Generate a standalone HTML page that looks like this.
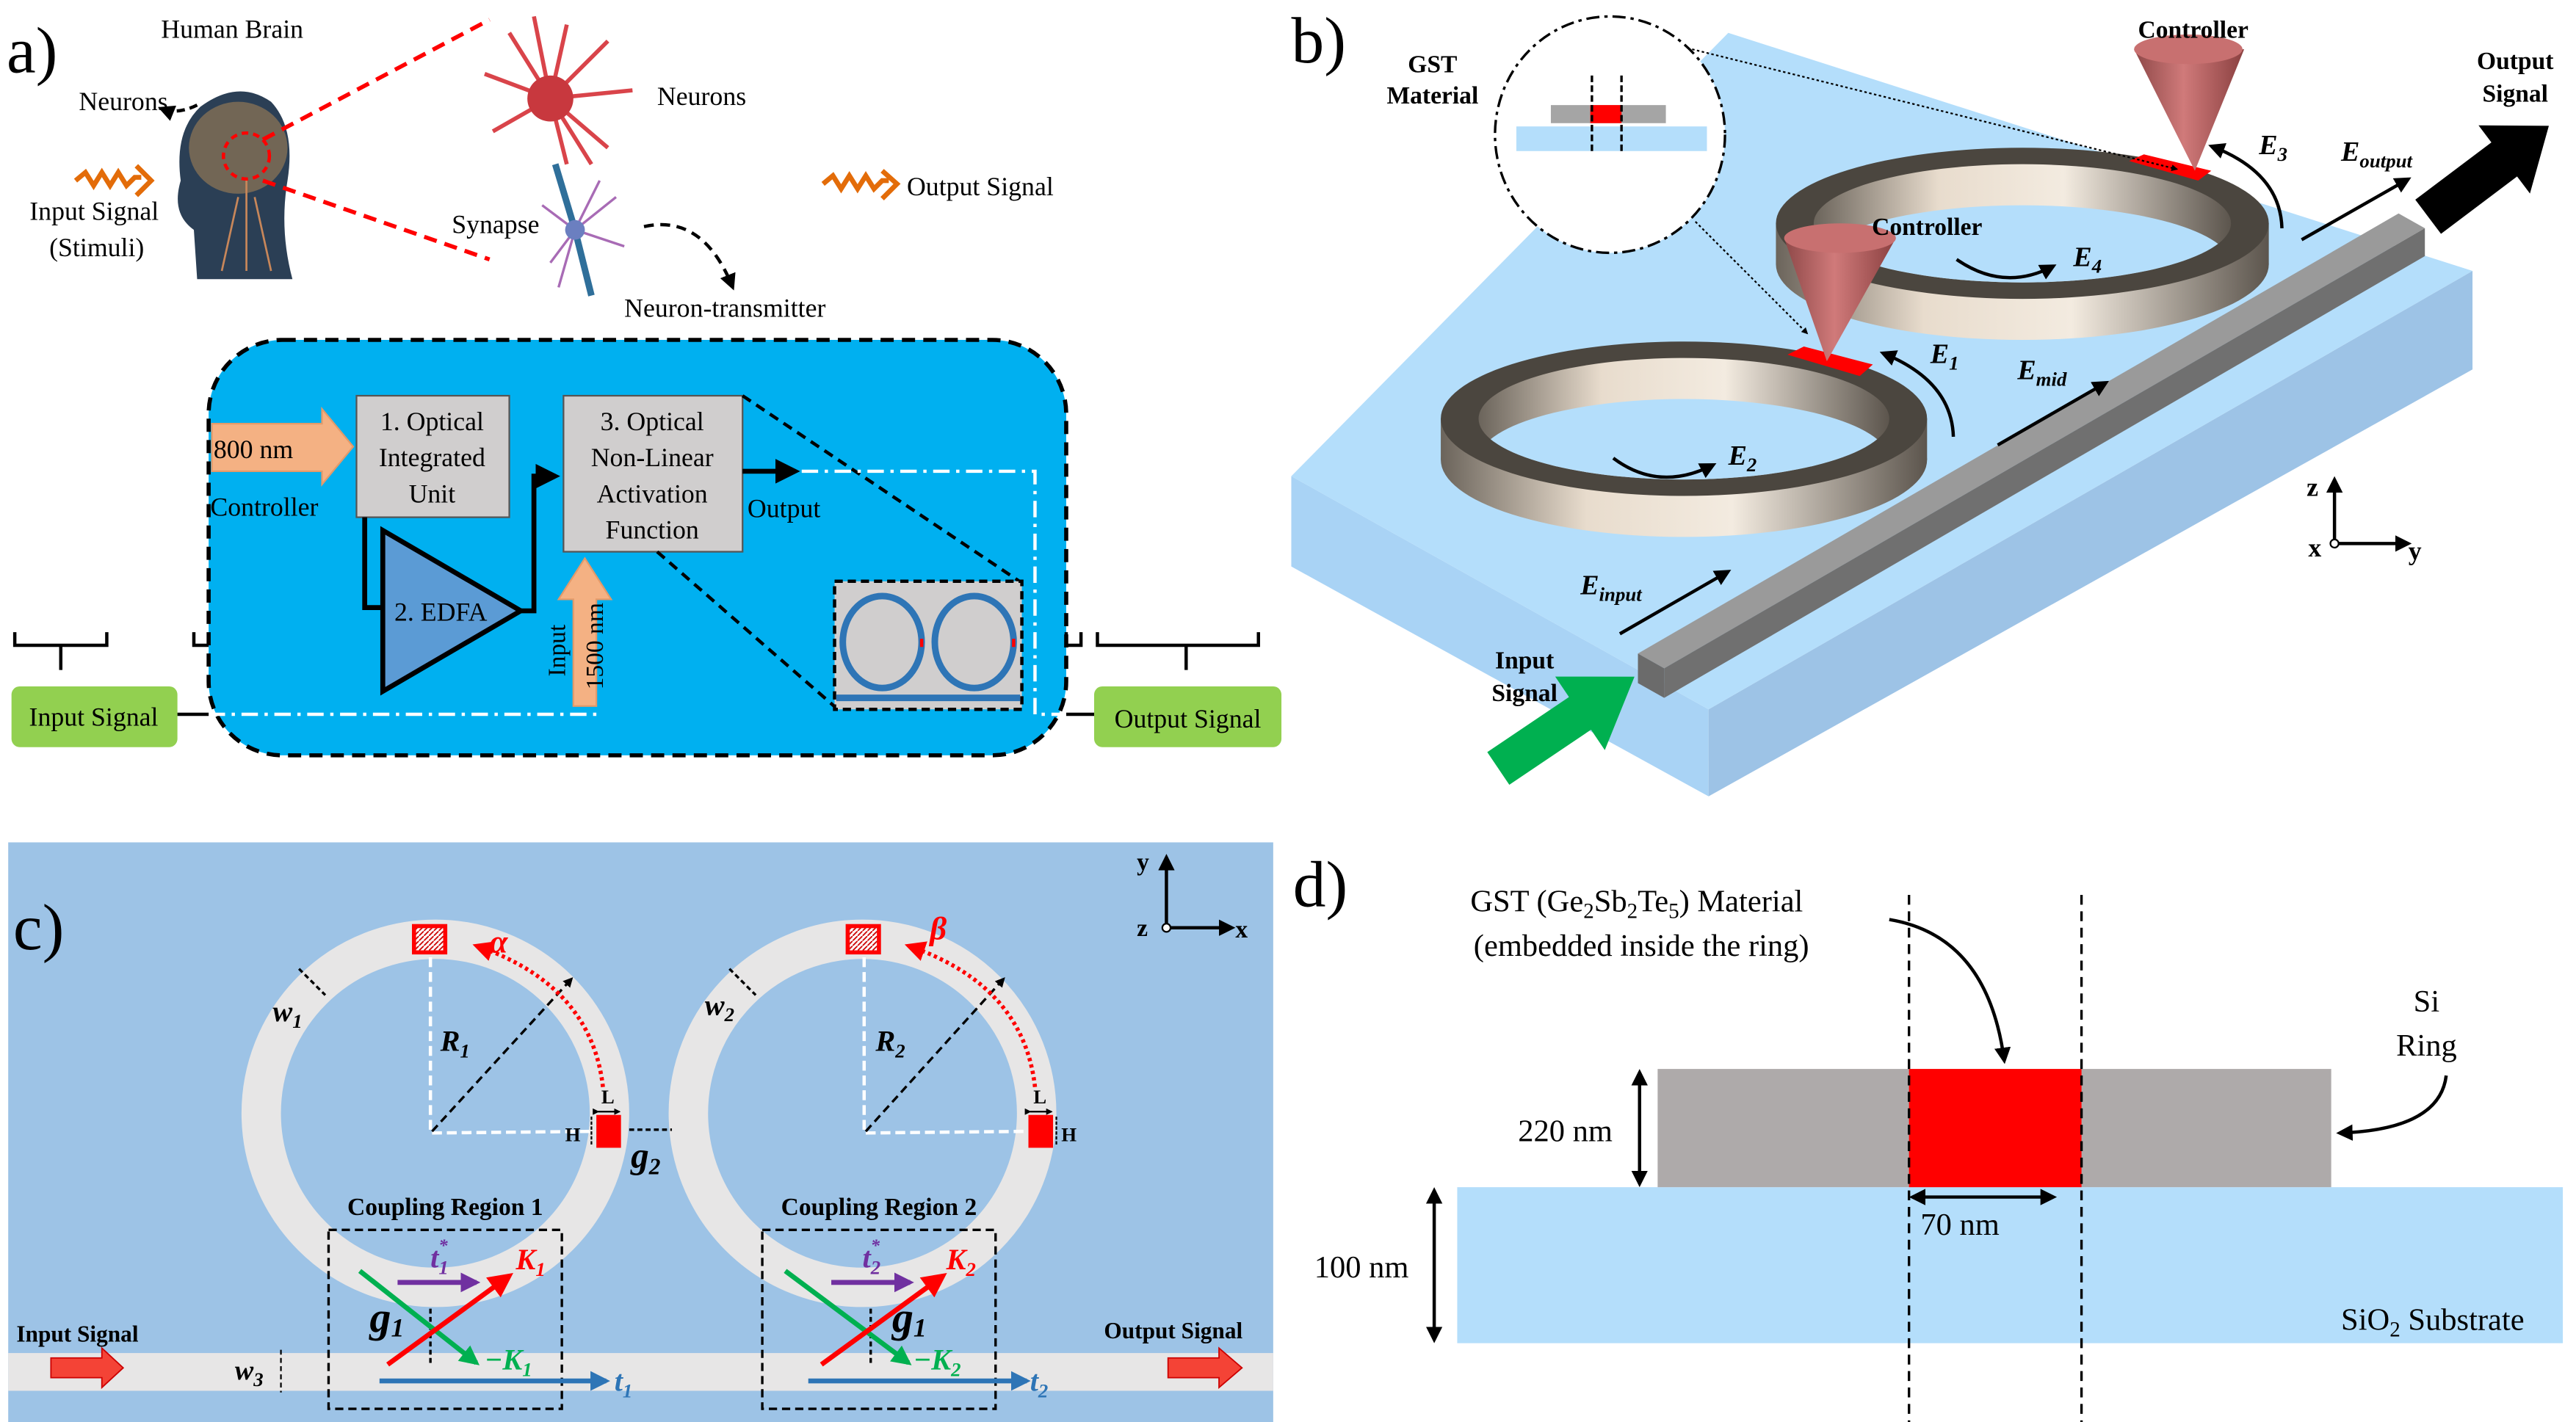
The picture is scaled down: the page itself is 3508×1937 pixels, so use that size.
<!DOCTYPE html>
<html><head><meta charset="utf-8"><style>
html,body{margin:0;padding:0;background:#fff;}
svg{display:block;font-family:"Liberation Serif","Times New Roman",serif;}
svg text{font-family:"Liberation Serif","Times New Roman",serif;}
.b{font-weight:bold;}
.i{font-style:italic;font-weight:bold;}
</style></head><body>
<svg width="3508" height="1937" viewBox="0 0 1568 866" preserveAspectRatio="none" xmlns="http://www.w3.org/2000/svg" font-family="Liberation Serif, serif">
<defs>
<marker id="ah" viewBox="0 0 10 10" refX="8" refY="5" markerWidth="5" markerHeight="5" orient="auto-start-reverse"><path d="M0,0L10,5L0,10z" fill="#000"/></marker>
<marker id="ahr" viewBox="0 0 10 10" refX="8" refY="5" markerWidth="5" markerHeight="5" orient="auto"><path d="M0,0L10,5L0,10z" fill="#f00"/></marker>
<marker id="ahp" viewBox="0 0 10 10" refX="8" refY="5" markerWidth="4" markerHeight="4" orient="auto"><path d="M0,0L10,5L0,10z" fill="#7030a0"/></marker>
<marker id="ahg" viewBox="0 0 10 10" refX="8" refY="5" markerWidth="4" markerHeight="4" orient="auto"><path d="M0,0L10,5L0,10z" fill="#00b050"/></marker>
<marker id="ahb" viewBox="0 0 10 10" refX="8" refY="5" markerWidth="4" markerHeight="4" orient="auto"><path d="M0,0L10,5L0,10z" fill="#2e75b6"/></marker>
<marker id="ahk" viewBox="0 0 10 10" refX="8" refY="5" markerWidth="4" markerHeight="4" orient="auto"><path d="M0,0L10,5L0,10z" fill="#000"/></marker>
<linearGradient id="wall" x1="0" x2="1"><stop offset="0" stop-color="#6b645b"/><stop offset="0.3" stop-color="#e8dccd"/><stop offset="0.6" stop-color="#f3ebe0"/><stop offset="1" stop-color="#5c554d"/></linearGradient>
<linearGradient id="cone" x1="0" x2="1"><stop offset="0" stop-color="#8e4848"/><stop offset="0.45" stop-color="#d07a7a"/><stop offset="1" stop-color="#8a4040"/></linearGradient>
<pattern id="hatch" width="3" height="3" patternUnits="userSpaceOnUse"><rect width="3" height="3" fill="#fff"/><path d="M0,3L3,0" stroke="#c00" stroke-width="0.8"/></pattern>
<clipPath id="h1"><ellipse cx="1025" cy="255" rx="125" ry="37"/></clipPath>
<clipPath id="h2"><ellipse cx="1231" cy="136" rx="127" ry="36"/></clipPath>
</defs>

<!-- ============ PANEL A ============ -->
<text x="4" y="44" font-size="40">a)</text>
<text x="98" y="23" font-size="16">Human Brain</text>
<text x="48" y="67" font-size="16">Neurons</text>
<path d="M98,70 Q110,64 120,68" stroke="#000" stroke-width="2" fill="none" stroke-dasharray="5,3" marker-end="url(#ah)" transform="rotate(180 109 67)"/>
<text x="18" y="134" font-size="16">Input Signal</text>
<text x="30" y="156" font-size="16">(Stimuli)</text>
<path d="M46,110 l6,-5 l5,8 l5,-8 l5,8 l5,-8 l5,8 l5,-5 l4,0" stroke="#e36c09" stroke-width="3" fill="none"/>
<path d="M83,101 l9,9 l-9,9" stroke="#e36c09" stroke-width="3" fill="none"/>
<path d="M120,170 L118,140 Q104,130 110,110 Q106,80 122,65 Q145,48 165,62 Q180,78 175,110 Q170,140 178,170 Z" fill="#2b3f55"/>
<ellipse cx="145" cy="90" rx="30" ry="28" fill="#7a6a55" opacity="0.9"/>
<ellipse cx="150" cy="95" rx="14" ry="14" fill="none" stroke="#f00" stroke-width="2" stroke-dasharray="4,3"/>
<path d="M150,110 L150,165 M145,120 L135,165 M155,120 L165,165" stroke="#c8875a" stroke-width="1.2"/>
<line x1="160" y1="85" x2="298" y2="12" stroke="#f00" stroke-width="2.5" stroke-dasharray="8,5"/>
<line x1="160" y1="110" x2="298" y2="158" stroke="#f00" stroke-width="2.5" stroke-dasharray="8,5"/>
<g stroke="#d9444a" stroke-width="2.5" fill="none">
<path d="M335,60 L310,20 M335,60 L345,15 M335,60 L370,25 M335,60 L385,55 M335,60 L370,90 M335,60 L345,100 M335,60 L300,80 M335,60 L295,45 M335,60 L325,10 M335,60 L360,100"/>
</g>
<circle cx="335" cy="60" r="14" fill="#c8383e"/>
<path d="M338,100 L350,140 L360,180" stroke="#2f6f9a" stroke-width="4" fill="none"/>
<g stroke="#a86bb5" stroke-width="1.5" fill="none"><path d="M350,140 L330,125 M350,140 L335,160 M350,140 L375,120 M350,140 L380,150 M350,140 L340,175 M350,140 L365,110"/></g>
<circle cx="350" cy="140" r="6" fill="#6b7fc0"/>
<text x="400" y="64" font-size="16">Neurons</text>
<text x="275" y="142" font-size="16">Synapse</text>
<text x="380" y="193" font-size="16">Neuron-transmitter</text>
<path d="M392,138 Q428,130 446,175" stroke="#000" stroke-width="2" fill="none" stroke-dasharray="6,4" marker-end="url(#ah)"/>
<path d="M501,112 l6,-5 l5,8 l5,-8 l5,8 l5,-8 l5,8 l5,-5 l4,0" stroke="#e36c09" stroke-width="3" fill="none"/>
<path d="M537,104 l9,8 l-9,9" stroke="#e36c09" stroke-width="3" fill="none"/>
<text x="552" y="119" font-size="16">Output Signal</text>

<rect x="127" y="207" width="522" height="253" rx="45" fill="#00b0f0" stroke="#000" stroke-width="2.5" stroke-dasharray="8,5"/>
<rect x="217" y="241" width="93" height="74" fill="#d0cece" stroke="#555" stroke-width="1"/>
<text font-size="16" text-anchor="middle"><tspan x="263" y="262">1. Optical</tspan><tspan x="263" y="284">Integrated</tspan><tspan x="263" y="306">Unit</tspan></text>
<path d="M129,258 L196,258 L196,249 L215,272 L196,295 L196,287 L129,287 Z" fill="#f4b183" stroke="#e39a6a"/>
<text x="130" y="279" font-size="16">800 nm</text>
<text x="128" y="314" font-size="16">Controller</text>
<polyline points="222,315 222,370 232,370" fill="none" stroke="#000" stroke-width="3"/>
<polygon points="233,323 233,421 317,372" fill="#5b9bd5" stroke="#000" stroke-width="3"/>
<text x="240" y="378" font-size="16">2. EDFA</text>
<polyline points="317,372 325,372 325,290 338,290" fill="none" stroke="#000" stroke-width="3" marker-end="url(#ah)"/>
<rect x="343" y="241" width="109" height="95" fill="#d0cece" stroke="#555" stroke-width="1"/>
<text font-size="16" text-anchor="middle"><tspan x="397" y="262">3. Optical</tspan><tspan x="397" y="284">Non-Linear</tspan><tspan x="397" y="306">Activation</tspan><tspan x="397" y="328">Function</tspan></text>
<line x1="452" y1="287" x2="484" y2="287" stroke="#000" stroke-width="3" marker-end="url(#ah)"/>
<text x="455" y="315" font-size="16">Output</text>
<path d="M349,430 L349,365 L340,365 L356,340 L372,365 L363,365 L363,430 Z" fill="#f4b183" stroke="#e39a6a"/>
<text font-size="15" transform="translate(367,420) rotate(-90)">1500 nm</text>
<text font-size="15" transform="translate(344,412) rotate(-90)">Input</text>
<line x1="452" y1="241" x2="622" y2="355" stroke="#000" stroke-width="2" stroke-dasharray="6,4"/>
<line x1="400" y1="336" x2="510" y2="432" stroke="#000" stroke-width="2" stroke-dasharray="6,4"/>
<polyline points="127,435 362,435 362,430" fill="none" stroke="#fff" stroke-width="2" stroke-dasharray="10,4,2,4"/>
<polyline points="488,287 630,287 630,435 649,435" fill="none" stroke="#fff" stroke-width="2" stroke-dasharray="10,4,2,4"/>
<rect x="508" y="354" width="114" height="78" fill="#d0cece" stroke="#000" stroke-width="2" stroke-dasharray="5,3"/>
<ellipse cx="537" cy="391" rx="24" ry="28" fill="none" stroke="#2e75b6" stroke-width="4"/>
<ellipse cx="593" cy="391" rx="24" ry="28" fill="none" stroke="#2e75b6" stroke-width="4"/>
<rect x="560" y="389" width="2" height="5" fill="#f00"/><rect x="616" y="389" width="2" height="5" fill="#f00"/>
<rect x="509" y="423" width="112" height="4" fill="#2e75b6"/>
<path d="M9,385 L9,393 L37,393 L37,408 M37,393 L65,393 L65,385" fill="none" stroke="#000" stroke-width="2"/>
<path d="M118,385 L118,393 L127,393" fill="none" stroke="#000" stroke-width="2"/>
<path d="M649,385 L649,393 L658,393 L658,385" fill="none" stroke="#000" stroke-width="2"/>
<path d="M668,385 L668,393 L722,393 L722,408 M722,393 L766,393 L766,385" fill="none" stroke="#000" stroke-width="2"/>
<rect x="7" y="418" width="101" height="37" rx="5" fill="#92d050"/>
<text x="57" y="442" font-size="16" text-anchor="middle">Input Signal</text>
<line x1="108" y1="435" x2="127" y2="435" stroke="#000" stroke-width="2"/>
<rect x="666" y="418" width="114" height="37" rx="5" fill="#92d050"/>
<text x="723" y="443" font-size="16" text-anchor="middle">Output Signal</text>
<line x1="649" y1="435" x2="666" y2="435" stroke="#000" stroke-width="2"/>

<!-- ============ PANEL B ============ -->
<text x="786" y="38" font-size="40">b)</text>
<polygon points="786,290 1040,432 1040,485 786,345" fill="#a9d3f5"/>
<polygon points="1040,432 1505,165 1505,225 1040,485" fill="#9dc3e6"/>
<polygon points="786,290 1052,20 1505,165 1040,432" fill="#b4defb"/>
<g>
<ellipse cx="1025" cy="280" rx="148" ry="47" fill="url(#wall)"/>
<rect x="877" y="255" width="296" height="25" fill="url(#wall)"/>
<ellipse cx="1025" cy="255" rx="148" ry="47" fill="#4b463f"/>
<ellipse cx="1025" cy="255" rx="125" ry="37" fill="url(#wall)"/>
<ellipse cx="1025" cy="280" rx="125" ry="37" fill="#b4defb" clip-path="url(#h1)"/>
</g>
<g>
<ellipse cx="1231" cy="161" rx="150" ry="46" fill="url(#wall)"/>
<rect x="1081" y="136" width="300" height="25" fill="url(#wall)"/>
<ellipse cx="1231" cy="136" rx="150" ry="46" fill="#4b463f"/>
<ellipse cx="1231" cy="136" rx="127" ry="36" fill="url(#wall)"/>
<ellipse cx="1231" cy="161" rx="127" ry="36" fill="#b4defb" clip-path="url(#h2)"/>
</g>
<polygon points="1088,216 1098,211 1140,222 1132,229" fill="#f00"/>
<polygon points="1296,98 1305,94 1346,104 1338,110" fill="#f00"/>
<polygon points="997,398 1460,130 1476,139 1013,407" fill="#9a9a9a"/>
<polygon points="997,398 1013,407 1013,425 997,416" fill="#6b6b6b"/>
<polygon points="1013,407 1476,139 1476,156 1013,425" fill="#707070"/>
<path d="M1086,145 L1112,220 L1154,145 Z" fill="url(#cone)"/>
<ellipse cx="1120" cy="145" rx="34" ry="9" fill="#c87070"/>
<path d="M1299,30 L1336,104 L1366,30 Z" fill="url(#cone)"/>
<ellipse cx="1332" cy="30" rx="33" ry="9" fill="#c87070"/>
<ellipse cx="980" cy="82" rx="70" ry="72" fill="#fff" stroke="#000" stroke-width="1.5" stroke-dasharray="8,3,2,3"/>
<rect x="944" y="64" width="70" height="11" fill="#a5a5a5"/>
<rect x="968" y="64" width="19" height="11" fill="#f00"/>
<rect x="923" y="77" width="116" height="15" fill="#b4defb"/>
<line x1="969" y1="46" x2="969" y2="93" stroke="#000" stroke-width="1.5" stroke-dasharray="4,2"/>
<line x1="987" y1="46" x2="987" y2="93" stroke="#000" stroke-width="1.5" stroke-dasharray="4,2"/>
<line x1="1030" y1="30" x2="1325" y2="103" stroke="#000" stroke-width="1" stroke-dasharray="1.5,1.5" marker-end="url(#ahk)"/>
<line x1="1032" y1="135" x2="1100" y2="203" stroke="#000" stroke-width="1" stroke-dasharray="1.5,1.5" marker-end="url(#ahk)"/>
<text class="b" font-size="15" text-anchor="middle"><tspan x="872" y="44">GST</tspan><tspan x="872" y="63">Material</tspan></text>
<text class="b" x="1335" y="23" font-size="15" text-anchor="middle">Controller</text>
<text class="b" x="1173" y="143" font-size="15" text-anchor="middle">Controller</text>
<text class="b" font-size="15" text-anchor="middle"><tspan x="1531" y="42">Output</tspan><tspan x="1531" y="62">Signal</tspan></text>
<text class="b" font-size="15" text-anchor="middle"><tspan x="928" y="407">Input</tspan><tspan x="928" y="427">Signal</tspan></text>
<g transform="translate(1478,132) rotate(-37)"><polygon points="0,-13 58,-13 58,-26 92,0 58,26 58,13 0,13" fill="#000"/></g>
<g transform="translate(912,468) rotate(-34)"><polygon points="0,-12 60,-12 60,-27 100,0 60,27 60,12 0,12" fill="#00b050"/></g>
<line x1="986" y1="386" x2="1052" y2="348" stroke="#000" stroke-width="2" marker-end="url(#ah)"/>
<line x1="1216" y1="271" x2="1282" y2="233" stroke="#000" stroke-width="2" marker-end="url(#ah)"/>
<line x1="1401" y1="146" x2="1466" y2="109" stroke="#000" stroke-width="2" marker-end="url(#ah)"/>
<path d="M1189,266 Q1188,232 1146,215" stroke="#000" stroke-width="2" fill="none" marker-end="url(#ah)"/>
<path d="M1389,139 Q1388,105 1346,89" stroke="#000" stroke-width="2" fill="none" marker-end="url(#ah)"/>
<path d="M982,279 Q1010,300 1043,283" stroke="#000" stroke-width="2" fill="none" marker-end="url(#ah)"/>
<path d="M1191,158 Q1220,178 1250,162" stroke="#000" stroke-width="2" fill="none" marker-end="url(#ah)"/>
<text class="i" font-size="17" x="962" y="362">E<tspan font-size="12" dy="4">input</tspan></text>
<text class="i" font-size="17" x="1228" y="231">E<tspan font-size="12" dy="4">mid</tspan></text>
<text class="i" font-size="17" x="1425" y="98">E<tspan font-size="12" dy="4">output</tspan></text>
<text class="i" font-size="17" x="1175" y="221">E<tspan font-size="12" dy="4">1</tspan></text>
<text class="i" font-size="17" x="1052" y="283">E<tspan font-size="12" dy="4">2</tspan></text>
<text class="i" font-size="17" x="1375" y="94">E<tspan font-size="12" dy="4">3</tspan></text>
<text class="i" font-size="17" x="1262" y="162">E<tspan font-size="12" dy="4">4</tspan></text>
<line x1="1421" y1="331" x2="1421" y2="292" stroke="#000" stroke-width="2" marker-end="url(#ah)"/>
<line x1="1421" y1="331" x2="1466" y2="331" stroke="#000" stroke-width="2" marker-end="url(#ah)"/>
<circle cx="1421" cy="331" r="2.5" fill="#fff" stroke="#000"/>
<text class="b" x="1404" y="302" font-size="16">z</text>
<text class="b" x="1405" y="339" font-size="16">x</text>
<text class="b" x="1466" y="341" font-size="16">y</text>

<!-- ============ PANEL C ============ -->
<rect x="5" y="513" width="770" height="353" fill="#9dc3e6"/>
<text x="8" y="578" font-size="40">c)</text>
<rect x="5" y="824" width="770" height="23" fill="#e7e6e6"/>
<circle cx="265" cy="678" r="106" fill="none" stroke="#e7e6e6" stroke-width="24"/>
<circle cx="525" cy="678" r="106" fill="none" stroke="#e7e6e6" stroke-width="24"/>
<rect x="252" y="564" width="19" height="16" fill="url(#hatch)" stroke="#f00" stroke-width="2.5"/>
<rect x="516" y="564" width="19" height="16" fill="url(#hatch)" stroke="#f00" stroke-width="2.5"/>
<rect x="363" y="679" width="15" height="20" fill="#f00"/>
<rect x="626" y="679" width="15" height="20" fill="#f00"/>
<polyline points="262,583 262,690 362,689" fill="none" stroke="#fff" stroke-width="2" stroke-dasharray="6,3"/>
<polyline points="526,583 526,690 624,689" fill="none" stroke="#fff" stroke-width="2" stroke-dasharray="6,3"/>
<line x1="263" y1="689" x2="348" y2="596" stroke="#000" stroke-width="1.5" stroke-dasharray="5,3" marker-end="url(#ahk)"/>
<line x1="527" y1="689" x2="611" y2="596" stroke="#000" stroke-width="1.5" stroke-dasharray="5,3" marker-end="url(#ahk)"/>
<path d="M367,662 Q360,600 290,576" fill="none" stroke="#f00" stroke-width="2.5" stroke-dasharray="2,2" marker-end="url(#ahr)"/>
<path d="M630,662 Q623,600 553,576" fill="none" stroke="#f00" stroke-width="2.5" stroke-dasharray="2,2" marker-end="url(#ahr)"/>
<text class="i" x="298" y="580" font-size="20" fill="#f00">α</text>
<text class="i" x="566" y="572" font-size="20" fill="#f00">β</text>
<line x1="182" y1="590" x2="198" y2="606" stroke="#000" stroke-width="1.5" stroke-dasharray="3,2"/>
<line x1="444" y1="590" x2="460" y2="606" stroke="#000" stroke-width="1.5" stroke-dasharray="3,2"/>
<text class="i" x="166" y="622" font-size="18">w<tspan font-size="12" dy="4">1</tspan></text>
<text class="i" x="429" y="618" font-size="18">w<tspan font-size="12" dy="4">2</tspan></text>
<text class="i" x="268" y="640" font-size="18">R<tspan font-size="12" dy="4">1</tspan></text>
<text class="i" x="533" y="640" font-size="18">R<tspan font-size="12" dy="4">2</tspan></text>
<text class="b" x="366" y="672" font-size="12">L</text>
<text class="b" x="629" y="672" font-size="12">L</text>
<line x1="364" y1="677" x2="377" y2="677" stroke="#000" stroke-width="1" marker-start="url(#ahk)" marker-end="url(#ahk)"/>
<line x1="627" y1="677" x2="640" y2="677" stroke="#000" stroke-width="1" marker-start="url(#ahk)" marker-end="url(#ahk)"/>
<text class="b" x="344" y="695" font-size="12">H</text>
<text class="b" x="646" y="695" font-size="12">H</text>
<line x1="360" y1="680" x2="360" y2="698" stroke="#000" stroke-width="1" stroke-dasharray="2,1"/>
<line x1="643" y1="680" x2="643" y2="698" stroke="#000" stroke-width="1" stroke-dasharray="2,1"/>
<line x1="383" y1="688" x2="409" y2="688" stroke="#000" stroke-width="1.5" stroke-dasharray="3,2"/>
<text class="i" x="384" y="711" font-size="22">g<tspan font-size="14" dy="4">2</tspan></text>
<text class="b" x="271" y="740" font-size="15" text-anchor="middle">Coupling Region 1</text>
<text class="b" x="535" y="740" font-size="15" text-anchor="middle">Coupling Region 2</text>
<rect x="200" y="749" width="142" height="109" fill="none" stroke="#000" stroke-width="1.5" stroke-dasharray="5,3"/>
<rect x="464" y="749" width="142" height="109" fill="none" stroke="#000" stroke-width="1.5" stroke-dasharray="5,3"/>
<line x1="262" y1="797" x2="262" y2="830" stroke="#000" stroke-width="1.5" stroke-dasharray="3,2"/>
<line x1="530" y1="797" x2="530" y2="830" stroke="#000" stroke-width="1.5" stroke-dasharray="3,2"/>
<g stroke-width="3">
<line x1="242" y1="781" x2="290" y2="781" stroke="#7030a0" marker-end="url(#ahp)"/>
<line x1="219" y1="774" x2="290" y2="830" stroke="#00b050" marker-end="url(#ahg)"/>
<line x1="236" y1="831" x2="310" y2="777" stroke="#f00" marker-end="url(#ahr)"/>
<line x1="231" y1="841" x2="369" y2="841" stroke="#2e75b6" marker-end="url(#ahb)"/>
<line x1="506" y1="781" x2="554" y2="781" stroke="#7030a0" marker-end="url(#ahp)"/>
<line x1="478" y1="774" x2="553" y2="830" stroke="#00b050" marker-end="url(#ahg)"/>
<line x1="500" y1="831" x2="574" y2="777" stroke="#f00" marker-end="url(#ahr)"/>
<line x1="492" y1="841" x2="625" y2="841" stroke="#2e75b6" marker-end="url(#ahb)"/>
</g>
<text class="i" x="262" y="772" font-size="18" fill="#7030a0">t<tspan font-size="12" dy="4">1</tspan><tspan font-size="11" dx="-6" dy="-14">*</tspan></text>
<text class="i" x="525" y="772" font-size="18" fill="#7030a0">t<tspan font-size="12" dy="4">2</tspan><tspan font-size="11" dx="-6" dy="-14">*</tspan></text>
<text class="i" x="314" y="773" font-size="18" fill="#f00">K<tspan font-size="12" dy="4">1</tspan></text>
<text class="i" x="576" y="773" font-size="18" fill="#f00">K<tspan font-size="12" dy="4">2</tspan></text>
<text class="i" x="295" y="834" font-size="18" fill="#00b050">−K<tspan font-size="12" dy="4">1</tspan></text>
<text class="i" x="556" y="834" font-size="18" fill="#00b050">−K<tspan font-size="12" dy="4">2</tspan></text>
<text class="i" x="374" y="847" font-size="18" fill="#2e75b6">t<tspan font-size="12" dy="4">1</tspan></text>
<text class="i" x="627" y="847" font-size="18" fill="#2e75b6">t<tspan font-size="12" dy="4">2</tspan></text>
<text class="i" x="225" y="811" font-size="26">g<tspan font-size="16" dy="3">1</tspan></text>
<text class="i" x="543" y="811" font-size="26">g<tspan font-size="16" dy="3">1</tspan></text>
<text class="b" x="10" y="817" font-size="14">Input Signal</text>
<text class="b" x="672" y="815" font-size="14">Output Signal</text>
<path d="M31,827 L62,827 L62,821 L75,833 L62,845 L62,839 L31,839 Z" fill="#f44336" stroke="#c00" stroke-width="0.8"/>
<path d="M711,827 L742,827 L742,821 L756,833 L742,845 L742,839 L711,839 Z" fill="#f44336" stroke="#c00" stroke-width="0.8"/>
<line x1="171" y1="822" x2="171" y2="848" stroke="#000" stroke-width="1" stroke-dasharray="3,2"/>
<text class="i" x="143" y="840" font-size="17">w<tspan font-size="12" dy="4">3</tspan></text>
<line x1="710" y1="565" x2="710" y2="522" stroke="#000" stroke-width="2" marker-end="url(#ah)"/>
<line x1="710" y1="565" x2="750" y2="565" stroke="#000" stroke-width="2" marker-end="url(#ah)"/>
<circle cx="710" cy="565" r="2.5" fill="#fff" stroke="#000"/>
<text class="b" x="692" y="530" font-size="15">y</text>
<text class="b" x="692" y="570" font-size="15">z</text>
<text class="b" x="752" y="571" font-size="15">x</text>

<!-- ============ PANEL D ============ -->
<text x="787" y="552" font-size="40">d)</text>
<rect x="887" y="723" width="673" height="95" fill="#b4defb"/>
<rect x="1009" y="651" width="410" height="72" fill="#aeaaaa"/>
<rect x="1162" y="651" width="105" height="72" fill="#f00"/>
<line x1="1162" y1="545" x2="1162" y2="866" stroke="#000" stroke-width="1.5" stroke-dasharray="6,4"/>
<line x1="1267" y1="545" x2="1267" y2="866" stroke="#000" stroke-width="1.5" stroke-dasharray="6,4"/>
<text x="895" y="555" font-size="19">GST (Ge<tspan font-size="13" dy="4">2</tspan><tspan dy="-4">Sb</tspan><tspan font-size="13" dy="4">2</tspan><tspan dy="-4">Te</tspan><tspan font-size="13" dy="4">5</tspan><tspan dy="-4">) Material</tspan></text>
<text x="897" y="582" font-size="19">(embedded inside the ring)</text>
<path d="M1150,560 Q1210,570 1220,646" stroke="#000" stroke-width="2" fill="none" marker-end="url(#ah)"/>
<text x="1477" y="616" font-size="19" text-anchor="middle">Si</text>
<text x="1477" y="643" font-size="19" text-anchor="middle">Ring</text>
<path d="M1489,655 Q1485,688 1424,690" stroke="#000" stroke-width="2" fill="none" marker-end="url(#ah)"/>
<text x="924" y="695" font-size="19">220 nm</text>
<line x1="998" y1="653" x2="998" y2="721" stroke="#000" stroke-width="2" marker-start="url(#ah)" marker-end="url(#ah)"/>
<text x="800" y="778" font-size="19">100 nm</text>
<line x1="873" y1="725" x2="873" y2="816" stroke="#000" stroke-width="2" marker-start="url(#ah)" marker-end="url(#ah)"/>
<line x1="1164" y1="729" x2="1250" y2="729" stroke="#000" stroke-width="2" marker-start="url(#ah)" marker-end="url(#ah)"/>
<text x="1169" y="752" font-size="19">70 nm</text>
<text x="1425" y="810" font-size="19">SiO<tspan font-size="13" dy="4">2</tspan><tspan dy="-4"> Substrate</tspan></text>
</svg>
</body></html>
